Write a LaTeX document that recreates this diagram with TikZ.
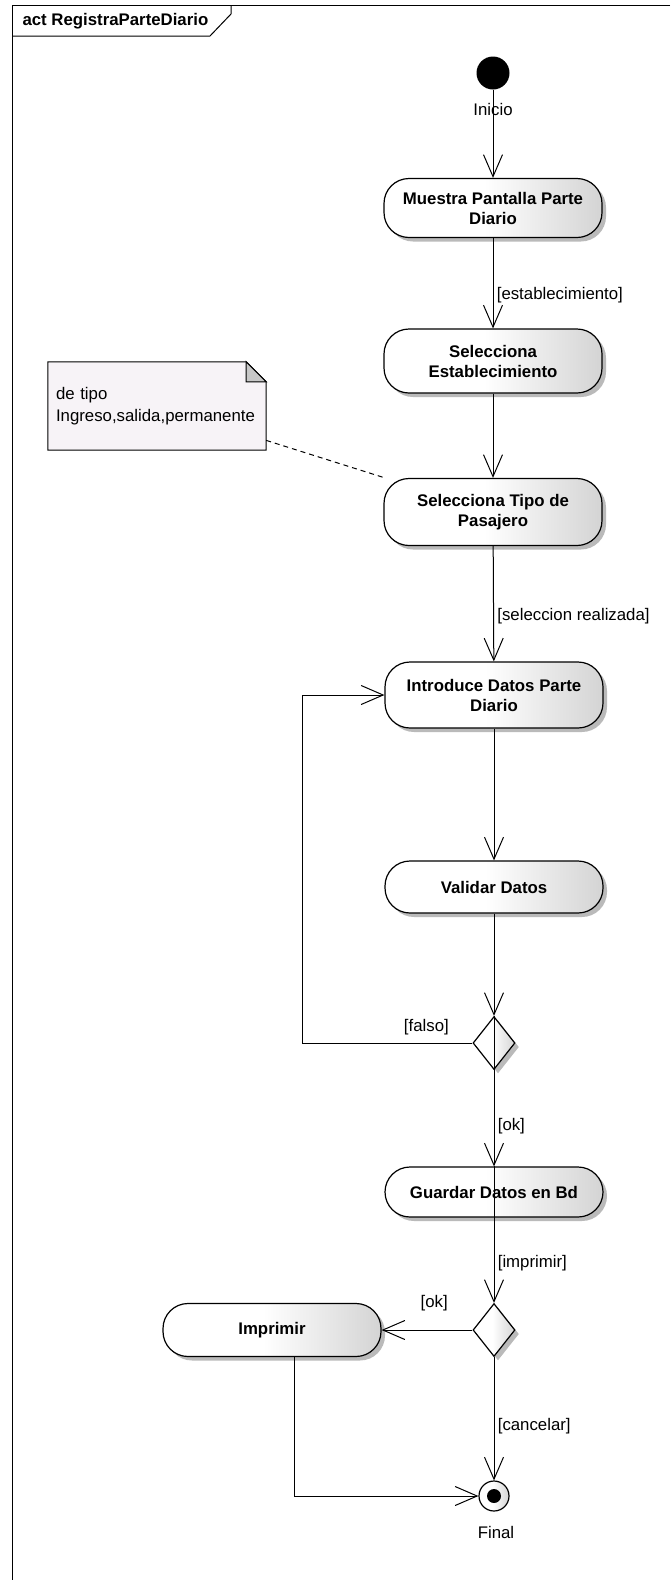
\documentclass[tikz,border=0pt]{standalone}
\usepackage{fontspec}
\setmainfont{Liberation Sans}
\usetikzlibrary{shapes.geometric,arrows.meta,shadows,backgrounds,positioning}

\pgfdeclarehorizontalshading{actshade}{100bp}{color(0bp)=(white); color(48bp)=(white); color(75bp)=(black!17); color(100bp)=(black!17)}

\tikzset{
  accion/.style={draw, line width=1.2pt, rounded corners=25pt, shading=actshade,
    drop shadow={shadow xshift=4pt, shadow yshift=-4pt, fill=black!30, opacity=0.9},
    minimum width=218pt, align=center, font=\fontsize{16.8}{20}\selectfont\bfseries},
  decision/.style={draw, diamond, line width=1.2pt, minimum width=42pt, minimum height=53pt,
    inner sep=0pt, shading=actshade,
    drop shadow={shadow xshift=4pt, shadow yshift=-4pt, fill=black!30, opacity=0.9}},
  guarda/.style={font=\fontsize{16.8}{20}\selectfont},
  trans/.style={line width=1pt, -{Straight Barb[length=22pt, width=19pt, line width=1pt]}},
  nota/.style={minimum width=218pt, minimum height=88pt, text width=202pt, inner sep=8pt,
    align=left, font=\fontsize{16.8}{22}\selectfont},
}

\begin{document}
\begin{tikzpicture}[x=1pt, y=-1pt]
\useasboundingbox (0,0) rectangle (670,1580);

% marco
\draw[line width=1pt] (670,5) -- (12,5) -- (12,1580);
\node[anchor=west, font=\fontsize{16.8}{20}\selectfont\bfseries] (titulo) at (19,21) {act RegistraParteDiario};
\draw[line width=1pt] (12,36) -- (210,36) -- (231,14) -- (231,5);

% nodos
\node[circle, fill=black, minimum size=33pt, inner sep=0pt] (inicio) at (493,73) {};
\node[guarda] (tinicio) at (493,109) {Inicio};
\node[accion, minimum height=59pt] (muestra) at (493,208) {Muestra Pantalla Parte\\Diario};
\node[accion, minimum height=64pt] (selest) at (493,361) {Selecciona\\Establecimiento};
\node[accion, minimum height=67pt] (seltipo) at (493,512) {Selecciona Tipo de\\Pasajero};
\node[accion, minimum height=66pt] (intro) at (494,695) {Introduce Datos Parte\\Diario};
\node[accion, minimum height=52pt] (validar) at (494,887) {Validar Datos};
\node[decision] (dec1) at (494,1043) {};
\node[accion, minimum height=50pt] (guardar) at (494,1192) {Guardar Datos en Bd};
\node[decision] (dec2) at (494,1330) {};
\node[accion, minimum height=53pt] (imprimir) at (272,1330) {Imprimir};
\node[circle, draw, line width=1.2pt, minimum size=30pt, inner sep=0pt, shading=actshade,
  path picture={\fill[black] (path picture bounding box.center) circle (7pt);}] (final) at (494,1496) {};
\node[guarda] (tfinal) at (496,1532) {Final};

% nota
\node[nota] (nota) at (157,406) {de tipo\\Ingreso,salida,permanente};
\begin{scope}[on background layer]
\filldraw[fill={rgb,255:red,247;green,243;blue,247}, line width=1pt] (nota.north west) -- ([xshift=-20pt]nota.north east)
  -- ([yshift=-20pt]nota.north east) -- (nota.south east) -- (nota.south west) -- cycle;
\filldraw[fill=black!22, line width=1pt] ([xshift=-20pt]nota.north east) -- ([xshift=-20pt,yshift=-20pt]nota.north east)
  -- ([yshift=-20pt]nota.north east) -- cycle;
\end{scope}
\draw[dashed, dash pattern=on 5pt off 4pt, line width=1pt] (nota) -- (seltipo);

% transiciones
\draw[trans] (inicio) -- (muestra);
\draw[trans] (muestra) -- node[guarda, right, pos=0.63] (lest) {[establecimiento]} (selest);
\draw[trans] (selest) -- (seltipo);
\draw[trans] (seltipo) -- node[guarda, right, pos=0.61] (lsel) {[seleccion realizada]} (intro);
\draw[trans] (intro) -- (validar);
\draw[trans] (validar) -- (dec1);
\coordinate (vuelta) at (302,1043);
\draw[trans] (dec1.west) -- node[guarda, above=4pt, pos=0.27] (lfalso) {[falso]} (vuelta) |- (intro.west);
\draw[trans] (dec1.north) -- node[guarda, right, pos=0.73] (lok) {[ok]} (guardar.north);
\draw[trans] (guardar.north) -- node[guarda, right, pos=0.71] (limp) {[imprimir]} (dec2.north);
\draw[trans] (dec2) -- node[guarda, above=15pt, pos=0.42] (lok2) {[ok]} (imprimir);
\draw[trans] (dec2) -- node[guarda, right, pos=0.56] (lcan) {[cancelar]} (final);
\draw[trans] ([xshift=22pt]imprimir.south) |- (final);
\end{tikzpicture}
\end{document}
